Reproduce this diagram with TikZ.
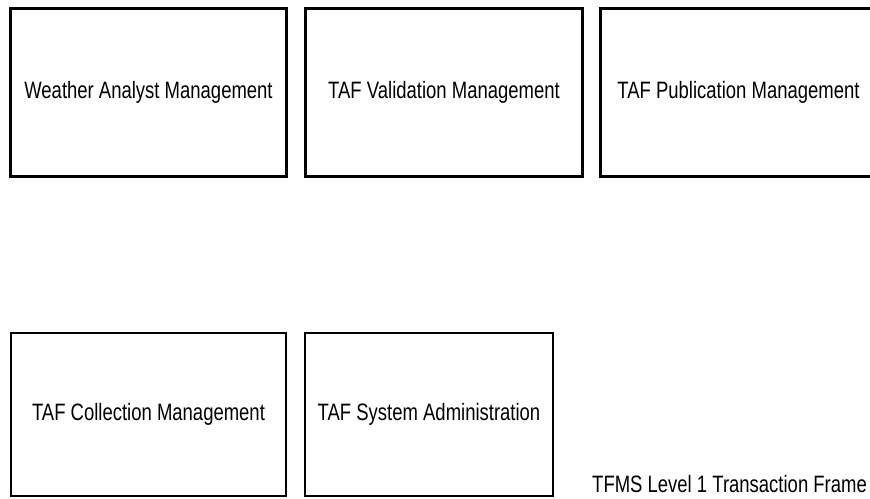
\documentclass[tikz,border=0pt]{standalone}
\usepackage{fontspec}
\setmainfont[FakeStretch=0.78]{Liberation Sans}
\begin{document}
\begin{tikzpicture}[x=1pt,y=-1pt,
  modbox/.style={draw=black, line width=2.6pt, rectangle, inner sep=0pt,
    minimum width=#1, font=\fontsize{23.7}{28}\selectfont},
  modbox/.default=276pt,
  lbl/.style={inner sep=0pt, font=\fontsize{23.7}{28}\selectfont}]
\useasboundingbox (0,0) rectangle (870,498);
\node[modbox=276pt, minimum height=168pt] (wam) at (148.5,92.5) {Weather Analyst Management};
\node[modbox=277pt, minimum height=168pt] (tvm) at (444,92.5) {TAF Validation Management};
\node[modbox=276pt, minimum height=168pt] (tpm) at (738.5,92.5) {TAF Publication Management};
\node[modbox=275pt, minimum height=163pt] (tcm) at (148.5,414.5) {TAF Collection Management};
\node[modbox=248pt, minimum height=163pt] (tsa) at (429,414.5) {TAF System Administration};
\node[lbl, anchor=base west] (frame) at (592,492) {TFMS Level 1 Transaction Frame};
\end{tikzpicture}
\end{document}
